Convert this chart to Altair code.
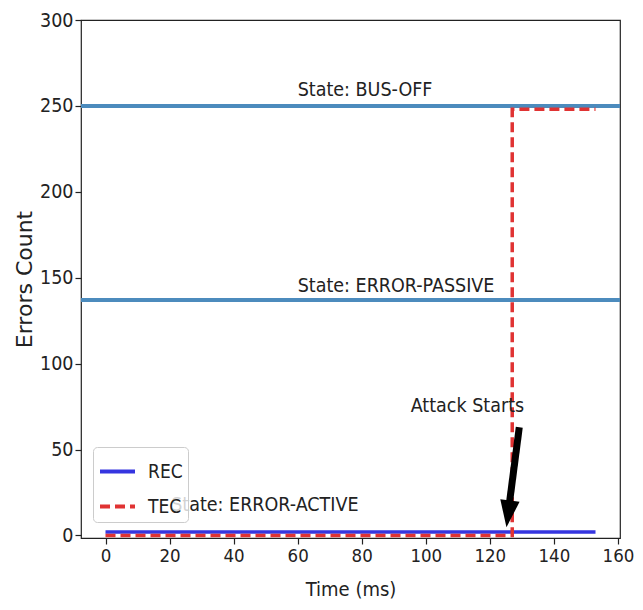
import altair as alt
import pandas as pd

# ---- data ----
rec_time = [0, 153]
rec_values = [2, 2]
tec_time = [0, 127, 127, 153]
tec_values = [0, 0, 248, 248]
series_names = ["REC", "TEC"]
series_colors = ["#3535e0", "#e03333"]

state_thresholds = [250, 137]
state_labels = ["State: BUS-OFF", "State: ERROR-PASSIVE", "State: ERROR-ACTIVE"]
state_label_x = [60, 60, 20.5]
state_label_y = [255.5, 141.5, 14.5]

attack_label = ["Attack Starts"]
attack_label_x = [113]
attack_label_y = [72]
arrow_x = [129.2, 126.0]
arrow_y = [63.0, 17.0]
arrow_tip_x = [125.2]
arrow_tip_y = [4.7]

x_ticks = [0, 20, 40, 60, 80, 100, 120, 140, 160]
y_ticks = [0, 50, 100, 150, 200, 250, 300]
x_domain = [-7.65, 160.65]
y_domain = [-1.5, 300]

NARROW = "DejaVu Sans Condensed, DejaVu Sans, sans-serif"
W, H = 539, 518
PAD_L = 73

# ---- tables ----
series_df = pd.DataFrame(
    {"time": rec_time + tec_time,
     "value": rec_values + tec_values,
     "series": ["REC"] * len(rec_time) + ["TEC"] * len(tec_time),
     "order": list(range(len(rec_time))) + list(range(len(tec_time)))}
)
thr_df = pd.DataFrame({"thr": state_thresholds})
lab_df = pd.DataFrame({"x": state_label_x, "y": state_label_y, "t": state_labels})
att_df = pd.DataFrame({"x": attack_label_x, "y": attack_label_y, "t": attack_label})
arrow_df = pd.DataFrame({"x": [arrow_x[0]], "y": [arrow_y[0]], "x2": [arrow_x[1]], "y2": [arrow_y[1]]})
tip_df = pd.DataFrame({"x": arrow_tip_x, "y": arrow_tip_y})

xs = alt.Scale(domain=x_domain, nice=False, zero=False)
ys = alt.Scale(domain=y_domain, nice=False, zero=False)

x_axis = alt.Axis(values=x_ticks, title="Time (ms)", titleFont=NARROW, titleFontSize=20,
                  titleFontWeight="normal", titleColor="#222", labelFontSize=18.5,
                  titleX=W / 2, titleY=51, titleBaseline="middle", titleAlign="center")
y_axis = alt.Axis(values=y_ticks, title="Errors Count", titleFont="DejaVu Sans", titleFontSize=22,
                  titleFontWeight="normal", titleColor="#222", titleAngle=-90,
                  titleX=-57, titleY=H / 2, titleBaseline="middle", titleAlign="center")

thr = alt.Chart(thr_df).mark_rule(color="#4c8bbd", strokeWidth=4).encode(
    y=alt.Y("thr:Q", scale=ys, axis=y_axis)
)

labels = alt.Chart(lab_df).mark_text(
    font=NARROW, fontSize=19.5, color="#222", align="left", baseline="alphabetic"
).encode(x=alt.X("x:Q", scale=xs, axis=x_axis), y=alt.Y("y:Q", scale=ys), text="t:N")

lines = alt.Chart(series_df).mark_line(strokeWidth=3.5).encode(
    x=alt.X("time:Q", scale=xs, axis=x_axis),
    y=alt.Y("value:Q", scale=ys, axis=y_axis),
    order="order:Q",
    color=alt.Color("series:N", scale=alt.Scale(domain=series_names, range=series_colors),
                    legend=alt.Legend(title=None)),
    strokeDash=alt.StrokeDash("series:N",
                              scale=alt.Scale(domain=series_names, range=[[1, 0], [10, 5]]),
                              legend=alt.Legend(title=None)),
)

shaft = alt.Chart(arrow_df).mark_rule(color="black", strokeWidth=7).encode(
    x=alt.X("x:Q", scale=xs), y=alt.Y("y:Q", scale=ys), x2="x2:Q", y2="y2:Q"
)

head = alt.Chart(tip_df).mark_point(
    shape="M0,0 L-0.36,-1 L0.36,-1 Z", size=2916, angle=7.4,
    filled=True, color="black", opacity=1, strokeWidth=0
).encode(x=alt.X("x:Q", scale=xs), y=alt.Y("y:Q", scale=ys))

att = alt.Chart(att_df).mark_text(
    font=NARROW, fontSize=19.5, color="#222", align="center", baseline="alphabetic"
).encode(x=alt.X("x:Q", scale=xs), y=alt.Y("y:Q", scale=ys), text="t:N")

chart = alt.layer(thr, labels, lines, att, shaft, head).properties(
    width=W, height=H,
    autosize=alt.AutoSizeParams(type="none"),
    padding={"left": PAD_L, "top": 12, "right": 627 - PAD_L - W, "bottom": 64},
).configure_view(
    stroke="#222", strokeWidth=1.2
).configure_axis(
    domain=False, grid=False, tickColor="#222", tickSize=6, tickWidth=1.2,
    labelFont=NARROW, labelFontSize=19.5, labelColor="#222", labelPadding=2,
).configure_legend(
    orient="none", legendX=12, legendY=427,
    fillColor="rgba(255,255,255,0.8)", strokeColor="#cccccc", cornerRadius=4,
    padding=5, rowPadding=5, symbolType="stroke", symbolSize=1225,
    symbolStrokeWidth=4, labelFont=NARROW, labelFontSize=19, labelColor="#222",
    labelOffset=11,
)

chart.save("out.html", embed_options={"renderer": "svg", "actions": False})
